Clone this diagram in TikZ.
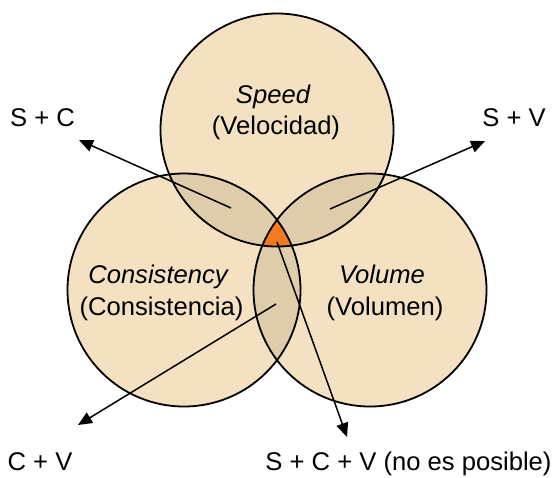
\documentclass[tikz,border=0pt]{standalone}
\usepackage{fontspec}
\setmainfont{Liberation Sans}
\usetikzlibrary{arrows.meta}
\definecolor{basefill}{HTML}{F4E1C2}
\definecolor{overlapfill}{HTML}{DECCAB}
\definecolor{triplefill}{HTML}{F47A1F}
\begin{document}
\begin{tikzpicture}[x=1pt,y=-1pt,
  txt/.style={font=\fontsize{25.6}{30}\selectfont, inner sep=0pt, anchor=base},
  venn/.style={circle, draw=black, line width=1.8pt, minimum size=233pt, inner sep=0pt},
  arr/.style={line width=1.5pt, -{Triangle[length=14pt,width=12pt]}}]
\useasboundingbox (0,0) rectangle (553,477);
\coordinate (cs) at (277,130);
\coordinate (cc) at (184,290);
\coordinate (cv) at (370,290);
\def\rr{116.5pt}
% base fills
\fill[basefill] (cs) circle[radius=\rr];
\fill[basefill] (cc) circle[radius=\rr];
\fill[basefill] (cv) circle[radius=\rr];
% pairwise overlaps
\begin{scope}
  \clip (cs) circle[radius=\rr];
  \fill[overlapfill] (cc) circle[radius=\rr];
  \fill[overlapfill] (cv) circle[radius=\rr];
\end{scope}
\begin{scope}
  \clip (cc) circle[radius=\rr];
  \fill[overlapfill] (cv) circle[radius=\rr];
\end{scope}
% triple overlap
\begin{scope}
  \clip (cs) circle[radius=\rr];
  \clip (cc) circle[radius=\rr];
  \fill[triplefill] (cv) circle[radius=\rr];
\end{scope}
% outlines
\node[venn] (S) at (cs) {};
\node[venn] (C) at (cc) {};
\node[venn] (V) at (cv) {};
% texts
\node[txt] (speed) at (273,103) {\itshape Speed};
\node[txt] (veloc) at (276,134) {(Velocidad)};
\node[txt] (cons) at (158,283) {\itshape Consistency};
\node[txt] (consE) at (161.5,315) {(Consistencia)};
\node[txt] (vol) at (382,283) {\itshape Volume};
\node[txt] (volE) at (385,315) {(Volumen)};
\node[txt] (lsc) at (42.5,126) {S + C};
\node[txt] (lsv) at (514,126) {S + V};
\node[txt] (lcv) at (40,470) {C + V};
\node[txt] (lscv) at (408.5,470) {S + C + V (no es posible)};
% arrows
\coordinate (scA) at (231,208);
\coordinate (scB) at (79,140);
\coordinate (svA) at (330,209);
\coordinate (svB) at (485,141);
\coordinate (cvA) at (276,304);
\coordinate (cvB) at (78,425);
\coordinate (scvA) at (277,242);
\coordinate (scvB) at (347,437);
\draw[arr] (scA) -- (scB);
\draw[arr] (svA) -- (svB);
\draw[arr] (cvA) -- (cvB);
\draw[arr] (scvA) -- (scvB);
\end{tikzpicture}
\end{document}
